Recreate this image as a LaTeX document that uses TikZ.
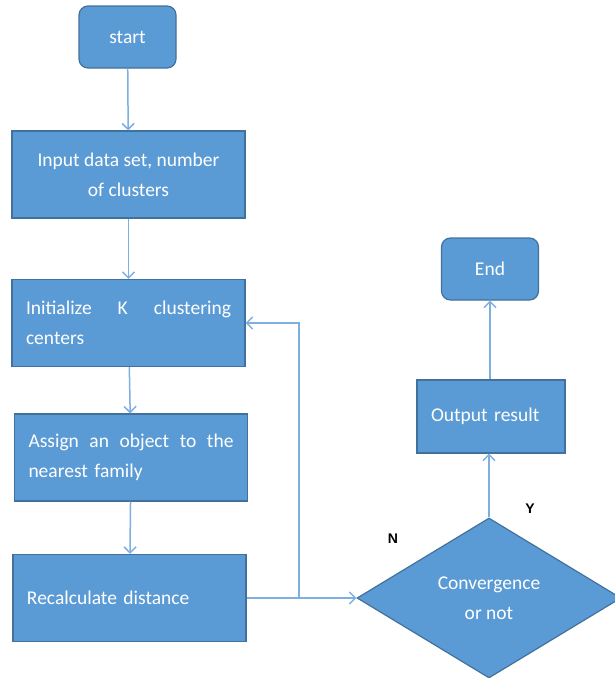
\documentclass[tikz,border=0pt]{standalone}
\usepackage{fontspec}
\setmainfont{Carlito}
\newfontfamily\labelfont{Liberation Sans}
\usetikzlibrary{arrows.meta, shapes.geometric}
\definecolor{boxblue}{RGB}{91,155,213}
\definecolor{edgeblue}{RGB}{65,113,156}
\definecolor{linkblue}{RGB}{125,175,225}
\tikzset{>={Straight Barb[length=6pt, width=12pt]}}

\begin{document}
\begin{tikzpicture}[x=1pt, y=-1pt,
  every node/.style={text=white, font=\fontsize{19.5}{30}\selectfont},
  block/.style={draw=edgeblue, fill=boxblue, line width=1.2pt, inner sep=0pt},
  term/.style={block, rounded corners=9pt, minimum width=97pt, minimum height=62pt},
  proc/.style={block, minimum width=233pt, minimum height=87pt},
  test/.style={block, diamond, aspect=1.65, minimum width=264pt, minimum height=160pt},
  link/.style={->, draw=linkblue, line width=1.5pt},
  yn/.style={text=black, font=\labelfont\bfseries\fontsize{14}{16}\selectfont}]
\useasboundingbox (0,0) rectangle (614,678);
% left column
\node[term] (start) at (127.5,37) {start};
\node[proc, align=center] (input) at (128.5,174.5) {Input data set, number\\of clusters};
\node[proc, text width=205pt, align=left] (init) at (128.5,323) {Initialize\hfill K\hfill clustering\\centers};
\node[proc, text width=205pt, align=left] (assign) at (131,457.5) {Assign\hfill an\hfill object\hfill to\hfill the\\nearest family};
\node[proc, text width=205pt, align=left] (recalc) at (129.5,598) {Recalculate distance};
% right column
\node[test, align=center] (conv) at (489,598) {Convergence\\or not};
\node[block, minimum width=148pt, minimum height=73pt, text width=120pt, align=left] (output) at (491,416.5) {Output result};
\node[term] (end) at (490,269) {End};
\node[yn] (yes) at (530,509) {Y};
\node[yn] (no) at (393,539) {N};
\coordinate (split) at (299,598);
% arrows
\draw[link] (start) -- (input);
\draw[link] (input) -- (init);
\draw[link] (init) -- (assign);
\draw[link] (assign) -- (recalc);
\draw[link] (recalc.east) -- (conv.west);
\draw[link] (split) |- (init.east);
\draw[link] (conv.north) -- (conv.north |- output.south);
\draw[link] (output.north -| end.south) -- (end.south);
\end{tikzpicture}
\end{document}
